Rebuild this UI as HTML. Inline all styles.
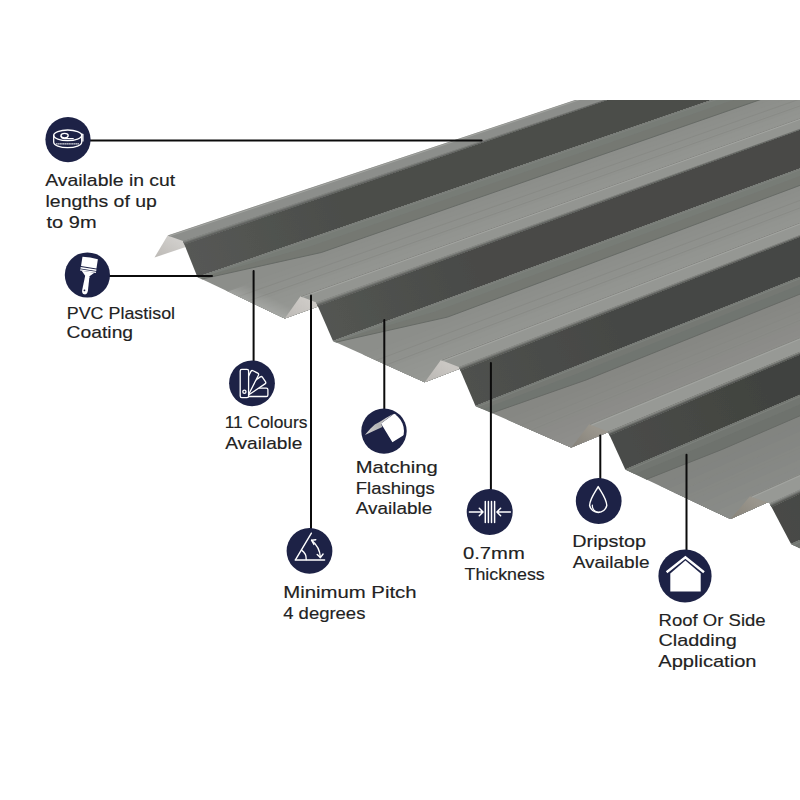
<!DOCTYPE html>
<html><head><meta charset="utf-8"><title>Trapezoidal Roof Sheet</title>
<style>html,body{margin:0;padding:0;background:#fff;}svg{display:block;}</style></head>
<body>
<svg width="800" height="800" viewBox="0 0 800 800">
<defs><linearGradient id="ug0" gradientUnits="userSpaceOnUse" x1="167.6" y1="235.4" x2="154.5" y2="257.6"><stop offset="0" stop-color="#d0cecb"/><stop offset="1" stop-color="#bcb9b5"/></linearGradient><linearGradient id="dg1" gradientUnits="userSpaceOnUse" x1="190.2" y1="259.1" x2="341.7" y2="207.6"><stop offset="0" stop-color="#565855"/><stop offset="1" stop-color="#4b4d4a"/></linearGradient><linearGradient id="pf1" gradientUnits="userSpaceOnUse" x1="241.1" y1="297.7" x2="247.5" y2="285.2"><stop offset="0" stop-color="#fff" stop-opacity="0.16"/><stop offset="1" stop-color="#fff" stop-opacity="0"/></linearGradient><linearGradient id="ug1" gradientUnits="userSpaceOnUse" x1="300.5" y1="296.2" x2="284.8" y2="318.4"><stop offset="0" stop-color="#cdcac6"/><stop offset="1" stop-color="#bdbab6"/></linearGradient><linearGradient id="dg2" gradientUnits="userSpaceOnUse" x1="324.6" y1="321.8" x2="475.0" y2="267.0"><stop offset="0" stop-color="#535552"/><stop offset="1" stop-color="#484a47"/></linearGradient><linearGradient id="ug2" gradientUnits="userSpaceOnUse" x1="440.9" y1="360.1" x2="424.8" y2="382.2"><stop offset="0" stop-color="#cac7c3"/><stop offset="1" stop-color="#bab7b3"/></linearGradient><linearGradient id="dg3" gradientUnits="userSpaceOnUse" x1="467.2" y1="386.4" x2="616.2" y2="328.1"><stop offset="0" stop-color="#4f514e"/><stop offset="1" stop-color="#454744"/></linearGradient><linearGradient id="ug3" gradientUnits="userSpaceOnUse" x1="589.2" y1="424.2" x2="571.2" y2="447.5"><stop offset="0" stop-color="#9a968d"/><stop offset="1" stop-color="#858179"/></linearGradient><linearGradient id="dg4" gradientUnits="userSpaceOnUse" x1="616.6" y1="450.6" x2="764.1" y2="388.5"><stop offset="0" stop-color="#4a4c49"/><stop offset="1" stop-color="#41433f"/></linearGradient><linearGradient id="ug4" gradientUnits="userSpaceOnUse" x1="750.0" y1="496.2" x2="730.5" y2="519.1"><stop offset="0" stop-color="#9a968d"/><stop offset="1" stop-color="#878379"/></linearGradient><linearGradient id="dg5" gradientUnits="userSpaceOnUse" x1="780.2" y1="523.6" x2="925.7" y2="457.1"><stop offset="0" stop-color="#484a47"/><stop offset="1" stop-color="#40423f"/></linearGradient><filter id="soft" x="-2%" y="-2%" width="104%" height="104%"><feGaussianBlur stdDeviation="0.35"/></filter><clipPath id="sc"><rect x="0" y="100" width="800" height="700"/></clipPath></defs>
<rect width="800" height="800" fill="#fff"/>
<g clip-path="url(#sc)"><g filter="url(#soft)">
<polygon points="154.50,257.60 167.60,235.40 1533.02,-218.23 1523.85,-203.38" fill="url(#ug0)"/>
<polygon points="167.60,235.40 183.00,241.10 1543.80,-214.93 1533.02,-218.23" fill="#8c8e8b"/>
<line x1="169.45" y1="236.08" x2="1534.31" y2="-217.84" stroke="#a3a5a1" stroke-width="1"/>
<polygon points="183.00,241.10 197.40,277.00 1553.88,-189.80 1543.80,-214.93" fill="url(#dg1)"/>
<polygon points="183.00,241.10 184.30,244.33 632.39,91.42 1544.05,-214.30 1543.80,-214.93 632.06,90.61" fill="#888a86"/>
<polygon points="183.22,241.64 184.30,244.33 632.39,91.42 1544.05,-214.30 1543.84,-214.83 632.12,90.74" fill="#7e807e"/>
<polygon points="183.43,242.18 184.30,244.33 632.39,91.42 1544.05,-214.30 1543.88,-214.72 632.17,90.88" fill="#767874"/>
<polygon points="183.65,242.72 184.30,244.33 632.39,91.42 1544.05,-214.30 1543.93,-214.62 632.23,91.01" fill="#6c6e6c"/>
<polygon points="183.86,243.25 184.30,244.33 632.39,91.42 1544.05,-214.30 1543.97,-214.51 632.28,91.15" fill="#646662"/>
<polygon points="184.08,243.79 184.30,244.33 632.39,91.42 1544.05,-214.30 1544.01,-214.41 632.33,91.28" fill="#5a5c5a"/>
<polygon points="197.40,277.00 284.75,318.40 1615.02,-160.82 1553.88,-189.80" fill="#8c8e8a"/>
<polygon points="225.79,290.45 284.75,318.40 1615.02,-160.82 1573.75,-180.38" fill="#8d8f8b"/>
<polygon points="232.34,293.56 284.75,318.40 1615.02,-160.82 1578.34,-178.21" fill="#8e908c"/>
<polygon points="238.89,296.66 284.75,318.40 1615.02,-160.82 1582.92,-176.03" fill="#8f918d"/>
<polygon points="245.44,299.77 284.75,318.40 1615.02,-160.82 1587.51,-173.86" fill="#90928e"/>
<polygon points="251.99,302.88 284.75,318.40 1615.02,-160.82 1592.10,-171.69" fill="#929490"/>
<polygon points="258.55,305.98 284.75,318.40 1615.02,-160.82 1596.68,-169.51" fill="#939591"/>
<polygon points="265.10,309.08 284.75,318.40 1615.02,-160.82 1601.27,-167.34" fill="#949692"/>
<polygon points="271.65,312.19 284.75,318.40 1615.02,-160.82 1605.85,-165.17" fill="#959793"/>
<polygon points="278.20,315.29 284.75,318.40 1615.02,-160.82 1610.44,-162.99" fill="#969894"/>
<polygon points="197.40,277.00 201.77,279.07 321.34,252.51 1569.78,-182.27 1553.88,-189.80" fill="#747872"/>
<polygon points="197.40,277.00 199.37,277.93 309.13,246.72 1561.03,-186.41 1553.88,-189.80" fill="#777b76"/>
<line x1="199.15" y1="277.83" x2="1555.10" y2="-189.22" stroke="#7e827d" stroke-width="1"/>
<polyline points="201.77,279.07 321.34,252.51 1569.78,-182.27" fill="none" stroke="#646863" stroke-width="0.9"/>
<line x1="238.45" y1="296.46" x2="1582.62" y2="-176.18" stroke="#858783" stroke-width="0.7"/>
<line x1="248.06" y1="301.01" x2="1589.34" y2="-172.99" stroke="#858783" stroke-width="0.7"/>
<polygon points="227.97,291.49 284.75,318.40 1615.02,-160.82 1575.28,-179.66" fill="url(#pf1)"/>
<polygon points="284.75,318.40 300.50,296.25 1626.05,-176.32 1615.02,-160.82" fill="url(#ug1)"/>
<polygon points="300.50,296.25 316.25,302.60 1637.08,-171.88 1626.05,-176.32" fill="#939591"/>
<line x1="300.97" y1="296.44" x2="1626.38" y2="-176.19" stroke="#80827e" stroke-width="0.8"/>
<line x1="302.39" y1="297.01" x2="1627.37" y2="-175.79" stroke="#a3a5a1" stroke-width="1"/>
<polygon points="316.25,302.60 333.00,341.00 1648.80,-145.00 1637.08,-171.88" fill="url(#dg2)"/>
<polygon points="316.25,302.60 317.76,306.06 752.50,146.89 1637.37,-171.21 1637.08,-171.88 752.12,146.02" fill="#8e908c"/>
<polygon points="316.50,303.18 317.76,306.06 752.50,146.89 1637.37,-171.21 1637.12,-171.77 752.19,146.17" fill="#838581"/>
<polygon points="316.75,303.75 317.76,306.06 752.50,146.89 1637.37,-171.21 1637.17,-171.66 752.25,146.31" fill="#787a77"/>
<polygon points="317.00,304.33 317.76,306.06 752.50,146.89 1637.37,-171.21 1637.22,-171.54 752.31,146.45" fill="#6e706c"/>
<polygon points="317.25,304.90 317.76,306.06 752.50,146.89 1637.37,-171.21 1637.27,-171.43 752.37,146.60" fill="#636562"/>
<polygon points="317.51,305.48 317.76,306.06 752.50,146.89 1637.37,-171.21 1637.32,-171.32 752.44,146.74" fill="#585a57"/>
<polygon points="333.00,341.00 424.75,382.25 1713.02,-116.12 1648.80,-145.00" fill="#8c8e8a"/>
<polygon points="362.82,354.41 424.75,382.25 1713.02,-116.12 1669.67,-135.62" fill="#8d8f8b"/>
<polygon points="369.70,357.50 424.75,382.25 1713.02,-116.12 1674.49,-133.45" fill="#8e908c"/>
<polygon points="376.58,360.59 424.75,382.25 1713.02,-116.12 1679.31,-131.28" fill="#8f918d"/>
<polygon points="383.46,363.69 424.75,382.25 1713.02,-116.12 1684.12,-129.12" fill="#90928e"/>
<polygon points="390.34,366.78 424.75,382.25 1713.02,-116.12 1688.94,-126.95" fill="#929490"/>
<polygon points="397.23,369.88 424.75,382.25 1713.02,-116.12 1693.76,-124.79" fill="#939591"/>
<polygon points="404.11,372.97 424.75,382.25 1713.02,-116.12 1698.57,-122.62" fill="#949692"/>
<polygon points="410.99,376.06 424.75,382.25 1713.02,-116.12 1703.39,-120.46" fill="#959793"/>
<polygon points="417.87,379.16 424.75,382.25 1713.02,-116.12 1708.21,-118.29" fill="#969894"/>
<polygon points="333.00,341.00 335.75,342.24 447.56,317.08 1664.86,-137.78 1648.80,-145.00" fill="#747872"/>
<polygon points="333.00,341.00 334.24,341.56 435.21,311.52 1656.03,-141.75 1648.80,-145.00" fill="#777b76"/>
<line x1="334.83" y1="341.82" x2="1650.08" y2="-144.42" stroke="#7e827d" stroke-width="1"/>
<polyline points="335.75,342.24 447.56,317.08 1664.86,-137.78" fill="none" stroke="#646863" stroke-width="0.9"/>
<line x1="376.12" y1="360.39" x2="1678.99" y2="-131.43" stroke="#858783" stroke-width="0.7"/>
<line x1="386.21" y1="364.93" x2="1686.05" y2="-128.25" stroke="#858783" stroke-width="0.7"/>
<polygon points="424.75,382.25 440.90,360.10 1724.33,-131.63 1713.02,-116.12" fill="url(#ug2)"/>
<polygon points="440.90,360.10 458.90,366.90 1736.93,-126.87 1724.33,-131.63" fill="#959793"/>
<line x1="441.44" y1="360.30" x2="1724.71" y2="-131.49" stroke="#80827e" stroke-width="0.8"/>
<line x1="443.06" y1="360.92" x2="1725.84" y2="-131.06" stroke="#a3a5a1" stroke-width="1"/>
<polygon points="458.90,366.90 475.50,406.00 1748.55,-99.50 1736.93,-126.87" fill="url(#dg3)"/>
<polygon points="458.90,366.90 460.39,370.42 881.02,204.84 1737.22,-126.19 1736.93,-126.87 880.65,203.96" fill="#8f918d"/>
<polygon points="459.15,367.49 460.39,370.42 881.02,204.84 1737.22,-126.19 1736.98,-126.76 880.71,204.10" fill="#848682"/>
<polygon points="459.40,368.07 460.39,370.42 881.02,204.84 1737.22,-126.19 1737.03,-126.64 880.77,204.25" fill="#787a76"/>
<polygon points="459.65,368.66 460.39,370.42 881.02,204.84 1737.22,-126.19 1737.08,-126.53 880.84,204.40" fill="#6c6e6b"/>
<polygon points="459.90,369.25 460.39,370.42 881.02,204.84 1737.22,-126.19 1737.12,-126.41 880.90,204.54" fill="#60625f"/>
<polygon points="460.14,369.83 460.39,370.42 881.02,204.84 1737.22,-126.19 1737.17,-126.30 880.96,204.69" fill="#555754"/>
<polygon points="475.50,406.00 571.25,447.50 1815.58,-70.45 1748.55,-99.50" fill="#868783"/>
<polygon points="506.62,419.49 571.25,447.50 1815.58,-70.45 1770.33,-90.06" fill="#878884"/>
<polygon points="513.80,422.60 571.25,447.50 1815.58,-70.45 1775.36,-87.88" fill="#888985"/>
<polygon points="520.98,425.71 571.25,447.50 1815.58,-70.45 1780.39,-85.70" fill="#898a86"/>
<polygon points="528.16,428.82 571.25,447.50 1815.58,-70.45 1785.41,-83.52" fill="#8a8b87"/>
<polygon points="535.34,431.94 571.25,447.50 1815.58,-70.45 1790.44,-81.34" fill="#8b8b88"/>
<polygon points="542.52,435.05 571.25,447.50 1815.58,-70.45 1795.47,-79.16" fill="#8c8c89"/>
<polygon points="549.71,438.16 571.25,447.50 1815.58,-70.45 1800.49,-76.99" fill="#8d8d8a"/>
<polygon points="556.89,441.27 571.25,447.50 1815.58,-70.45 1805.52,-74.81" fill="#8e8e8b"/>
<polygon points="564.07,444.39 571.25,447.50 1815.58,-70.45 1810.55,-72.63" fill="#8f8f8c"/>
<polygon points="475.50,406.00 491.78,413.06 586.17,379.96 1763.97,-92.82 1748.55,-99.50" fill="#707470"/>
<polygon points="475.50,406.00 482.82,409.17 574.32,374.82 1755.49,-96.49 1748.55,-99.50" fill="#747873"/>
<line x1="477.42" y1="406.83" x2="1749.89" y2="-98.92" stroke="#7e827d" stroke-width="1"/>
<polyline points="491.78,413.06 586.17,379.96 1763.97,-92.82" fill="none" stroke="#646863" stroke-width="0.9"/>
<line x1="520.50" y1="425.50" x2="1780.05" y2="-85.85" stroke="#858783" stroke-width="0.7"/>
<line x1="531.03" y1="430.07" x2="1787.42" y2="-82.65" stroke="#858783" stroke-width="0.7"/>
<polygon points="571.25,447.50 589.25,424.25 1828.17,-86.72 1815.58,-70.45" fill="url(#ug3)"/>
<polygon points="589.25,424.25 608.00,431.75 1841.30,-81.48 1828.17,-86.72" fill="#979995"/>
<line x1="589.81" y1="424.48" x2="1828.57" y2="-86.57" stroke="#80827e" stroke-width="0.8"/>
<line x1="591.50" y1="425.15" x2="1829.75" y2="-86.09" stroke="#a3a5a1" stroke-width="1"/>
<polygon points="608.00,431.75 625.25,469.50 1853.38,-55.05 1841.30,-81.48" fill="url(#dg4)"/>
<polygon points="608.00,431.75 609.55,435.15 1015.38,263.24 1841.60,-80.81 1841.30,-81.48 1014.99,262.39" fill="#91938f"/>
<polygon points="608.26,432.32 609.55,435.15 1015.38,263.24 1841.60,-80.81 1841.35,-81.36 1015.05,262.53" fill="#848682"/>
<polygon points="608.52,432.88 609.55,435.15 1015.38,263.24 1841.60,-80.81 1841.40,-81.25 1015.12,262.67" fill="#777975"/>
<polygon points="608.78,433.45 609.55,435.15 1015.38,263.24 1841.60,-80.81 1841.45,-81.14 1015.18,262.81" fill="#6a6c69"/>
<polygon points="609.03,434.01 609.55,435.15 1015.38,263.24 1841.60,-80.81 1841.50,-81.03 1015.25,262.95" fill="#5d5f5c"/>
<polygon points="609.29,434.58 609.55,435.15 1015.38,263.24 1841.60,-80.81 1841.55,-80.92 1015.31,263.09" fill="#50524f"/>
<polygon points="625.25,469.50 730.50,519.10 1927.05,-20.33 1853.38,-55.05" fill="#828480"/>
<polygon points="659.46,485.62 730.50,519.10 1927.05,-20.33 1877.32,-43.77" fill="#828481"/>
<polygon points="667.35,489.34 730.50,519.10 1927.05,-20.33 1882.85,-41.16" fill="#848682"/>
<polygon points="675.24,493.06 730.50,519.10 1927.05,-20.33 1888.37,-38.56" fill="#848683"/>
<polygon points="683.14,496.78 730.50,519.10 1927.05,-20.33 1893.90,-35.95" fill="#868884"/>
<polygon points="691.03,500.50 730.50,519.10 1927.05,-20.33 1899.42,-33.35" fill="#868885"/>
<polygon points="698.92,504.22 730.50,519.10 1927.05,-20.33 1904.95,-30.75" fill="#888a86"/>
<polygon points="706.82,507.94 730.50,519.10 1927.05,-20.33 1910.47,-28.14" fill="#888a87"/>
<polygon points="714.71,511.66 730.50,519.10 1927.05,-20.33 1916.00,-25.54" fill="#8a8c88"/>
<polygon points="722.61,515.38 730.50,519.10 1927.05,-20.33 1921.52,-22.93" fill="#8a8c89"/>
<polygon points="625.25,469.50 646.30,479.42 722.71,449.23 1870.32,-47.06 1853.38,-55.05" fill="#6e726d"/>
<polygon points="625.25,469.50 634.72,473.96 709.63,443.07 1861.00,-51.46 1853.38,-55.05" fill="#727671"/>
<line x1="627.36" y1="470.49" x2="1854.85" y2="-54.36" stroke="#7e827d" stroke-width="1"/>
<polyline points="646.30,479.42 722.71,449.23 1870.32,-47.06" fill="none" stroke="#646863" stroke-width="0.9"/>
<line x1="674.72" y1="492.81" x2="1888.00" y2="-38.73" stroke="#858783" stroke-width="0.7"/>
<line x1="686.29" y1="498.27" x2="1896.11" y2="-34.91" stroke="#858783" stroke-width="0.7"/>
<polygon points="730.50,519.10 750.00,496.25 1940.70,-36.32 1927.05,-20.33" fill="url(#ug4)"/>
<polygon points="750.00,496.25 769.50,503.20 1954.35,-31.46 1940.70,-36.32" fill="#979995"/>
<line x1="750.59" y1="496.46" x2="1941.11" y2="-36.18" stroke="#80827e" stroke-width="0.8"/>
<line x1="752.34" y1="497.08" x2="1942.34" y2="-35.74" stroke="#a3a5a1" stroke-width="1"/>
<polygon points="769.50,503.20 791.00,544.10 1969.40,-2.83 1954.35,-31.46" fill="url(#dg5)"/>
<polygon points="769.50,503.20 771.43,506.88 1160.98,327.68 1954.73,-30.74 1954.35,-31.46 1160.50,326.76" fill="#90928e"/>
<polygon points="769.82,503.81 771.43,506.88 1160.98,327.68 1954.73,-30.74 1954.41,-31.34 1160.58,326.92" fill="#838582"/>
<polygon points="770.14,504.43 771.43,506.88 1160.98,327.68 1954.73,-30.74 1954.48,-31.22 1160.66,327.07" fill="#767874"/>
<polygon points="770.47,505.04 771.43,506.88 1160.98,327.68 1954.73,-30.74 1954.54,-31.10 1160.74,327.22" fill="#696b68"/>
<polygon points="770.79,505.65 771.43,506.88 1160.98,327.68 1954.73,-30.74 1954.60,-30.98 1160.82,327.38" fill="#5c5e5a"/>
<polygon points="771.11,506.27 771.43,506.88 1160.98,327.68 1954.73,-30.74 1954.66,-30.86 1160.90,327.53" fill="#4f514e"/>
<polygon points="791.00,544.10 902.00,597.00 2047.10,34.20 1969.40,-2.83" fill="#80827e"/>
<polygon points="827.08,561.29 902.00,597.00 2047.10,34.20 1994.65,9.20" fill="#80827f"/>
<polygon points="835.40,565.26 902.00,597.00 2047.10,34.20 2000.48,11.98" fill="#828480"/>
<polygon points="843.73,569.23 902.00,597.00 2047.10,34.20 2006.31,14.76" fill="#828481"/>
<polygon points="852.05,573.20 902.00,597.00 2047.10,34.20 2012.13,17.54" fill="#848682"/>
<polygon points="860.38,577.16 902.00,597.00 2047.10,34.20 2017.96,20.31" fill="#848683"/>
<polygon points="868.70,581.13 902.00,597.00 2047.10,34.20 2023.79,23.09" fill="#868884"/>
<polygon points="877.02,585.10 902.00,597.00 2047.10,34.20 2029.62,25.87" fill="#868885"/>
<polygon points="885.35,589.07 902.00,597.00 2047.10,34.20 2035.44,28.65" fill="#888a86"/>
<polygon points="893.67,593.03 902.00,597.00 2047.10,34.20 2041.27,31.42" fill="#888a87"/>
<polygon points="791.00,544.10 813.20,554.68 886.77,523.23 1987.27,5.69 1969.40,-2.83" fill="#6d716c"/>
<polygon points="791.00,544.10 800.99,548.86 872.99,516.66 1977.44,1.00 1969.40,-2.83" fill="#717570"/>
<line x1="793.22" y1="545.16" x2="1970.95" y2="-2.09" stroke="#7e827d" stroke-width="1"/>
<polyline points="813.20,554.68 886.77,523.23 1987.27,5.69" fill="none" stroke="#646863" stroke-width="0.9"/>
<line x1="843.17" y1="568.96" x2="2005.92" y2="14.57" stroke="#858783" stroke-width="0.7"/>
<line x1="855.38" y1="574.78" x2="2014.47" y2="18.65" stroke="#858783" stroke-width="0.7"/>
</g></g>
<g stroke="#0b0b0b" stroke-width="2" fill="none" stroke-linecap="round">
<line x1="88" y1="140.6" x2="481.6" y2="140.6"/>
<line x1="108" y1="276.1" x2="212" y2="276.1"/>
<line x1="253.6" y1="271" x2="253.6" y2="362"/>
<line x1="311" y1="295.5" x2="311" y2="529"/>
<line x1="384.3" y1="320" x2="384.3" y2="410"/>
<line x1="490.9" y1="363" x2="490.9" y2="490"/>
<line x1="600.3" y1="435.5" x2="600.3" y2="479"/>
<line x1="686.5" y1="454.75" x2="686.5" y2="551"/>
</g>
<circle cx="68" cy="139.6" r="22.6" fill="#1d2246"/>
<circle cx="87.4" cy="275" r="22.6" fill="#1d2246"/>
<circle cx="252" cy="383.3" r="22.9" fill="#1d2246"/>
<circle cx="384" cy="431.1" r="22.7" fill="#1d2246"/>
<circle cx="309.5" cy="550.9" r="22.9" fill="#1d2246"/>
<circle cx="489.7" cy="511.9" r="23" fill="#1d2246"/>
<circle cx="598.7" cy="501" r="22.9" fill="#1d2246"/>
<circle cx="685" cy="576" r="26.6" fill="#1d2246"/>
<defs>
<linearGradient id="fg" x1="364" y1="435" x2="393" y2="414" gradientUnits="userSpaceOnUse"><stop offset="0" stop-color="#d6d6d6"/><stop offset="0.5" stop-color="#b4b4b4"/><stop offset="0.75" stop-color="#c8c8c8"/><stop offset="1" stop-color="#eeeeee"/></linearGradient>
<clipPath id="fc"><circle cx="384" cy="431.1" r="20"/></clipPath>
</defs>
<g fill="none" stroke="#fff" stroke-linecap="round" stroke-linejoin="round">
<!-- 1 tape measure -->
<g stroke-width="1.3">
<ellipse cx="67.7" cy="135.3" rx="14" ry="5.3"/>
<path d="M53.7 135.3 V142.3 A14 5.3 0 0 0 81.7 142.3 V135.3"/>
<path d="M81.7 134.1 L82.9 134.3 V141"/>
<ellipse cx="64.6" cy="135.6" rx="3.6" ry="2.2"/>
<path d="M61 136.2 Q61.4 138.7 64.6 138.7 H73.2"/>
<path d="M56.2 143.9 H79.2" stroke-width="1.0" stroke-dasharray="0.8 1.0"/>
</g>
<!-- 2 paint brush -->
<g transform="translate(87.4,275.6) rotate(9)" fill="#fff" stroke="none">
<path d="M-7.8 -17.8 Q0 -18.8 7.8 -17.8 L7.8 -8.4 L-7.8 -8.4 Z"/>
<rect x="-8" y="-7.5" width="16" height="1.7"/>
<rect x="-8" y="-5.1" width="16" height="1.3"/>
<path d="M-6.4 -3.9 L6.4 -3.9 L2.2 0.4 L2.2 2 L-2.2 2 L-2.2 0.4 Z"/>
<path d="M-2.2 1 L2.2 1 L2.9 15 Q2.9 19 0 19 Q-2.9 19 -2.9 15 Z"/>
<circle cx="-0.6" cy="15" r="0.9" fill="#1d2246"/>
</g>
<!-- 3 swatches -->
<g stroke-width="1.3" fill="#1d2246">
<g transform="rotate(90 245 392.3)"><path d="M245 392.3 H240.8 V371.0 Q240.8 369.4 242.4 369.4 H247.6 Q249.2 369.4 249.2 371.0 V392.3 Z"/></g>
<g transform="rotate(56 245 392.3)"><path d="M245 392.3 H240.8 V371.0 Q240.8 369.4 242.4 369.4 H247.6 Q249.2 369.4 249.2 371.0 V392.3 Z"/></g>
<g transform="rotate(27 245 392.3)"><path d="M245 392.3 H240.8 V371.0 Q240.8 369.4 242.4 369.4 H247.6 Q249.2 369.4 249.2 371.0 V392.3 Z"/></g>
<rect x="240.2" y="369.4" width="8.4" height="28.2" rx="1.6"/>
<circle cx="244.4" cy="391.8" r="1.6"/>
</g>
<!-- 4 flashing -->
<g stroke="none">
<polygon clip-path="url(#fc)" points="381,423.4 399.5,409.8 430,409.8 430,428.3 414.4,428.3 392.4,442.3" fill="#fff"/>
<path d="M364.9 434.9 L370.5 428.6 L374.8 424.4 L379.9 421.7 L385.4 418.3 L393.6 413.7 L381 423.4 L382.3 427 Z" fill="url(#fg)"/>
</g>
<!-- 5 pitch -->
<g stroke-width="1.4">
<path d="M295.2 560 H324.6"/>
<path d="M295.6 559.6 L311.4 533.2"/>
<path d="M301.5 550.2 A10.6 10.6 0 0 1 306.2 559.6"/>
<path d="M311.6 540.2 A24 24 0 0 1 320.4 557.6"/>
<path d="M311.6 540.2 L313.9 544.4 M311.6 540.2 L315.8 539.7"/>
<path d="M320.4 557.6 L317.2 554.4 M320.4 557.6 L323.1 554.0"/>
</g>
<!-- 6 thickness -->
<g stroke-width="1.5">
<path d="M485.3 501.6 V522.6 M488.4 501.6 V522.6 M491.5 501.6 V522.6 M494.6 501.6 V522.6"/>
<path d="M469.4 512 H483 M479.3 508.2 L483 512 L479.3 515.8"/>
<path d="M510.4 512 H496.9 M500.6 508.2 L496.9 512 L500.6 515.8"/>
</g>
<!-- 7 drop -->
<g stroke-width="1.4">
<path d="M598.2 486.6 C596 491 590 498 589.6 505.5 A8.8 8.8 0 0 0 606.8 505.5 C606.4 498 600.4 491 598.2 486.6 Z"/>
<path d="M592.4 505 A6.4 6.4 0 0 0 599.4 512.2" stroke-width="1.2"/>
</g>
<!-- 8 house -->
<g>
<path d="M666.6 572.3 L685.4 557.2 L704 572.3" stroke-width="2.4" stroke-linecap="butt" stroke-linejoin="miter"/>
<polygon points="670.3,573.4 685.4,560.4 700.7,573.4 700.7,591.4 670.3,591.4" fill="#fff" stroke="none"/>
</g>
</g>

<g font-family="'Liberation Sans', sans-serif" font-size="16.2" fill="#222222" stroke="#222222" stroke-width="0.15">
<text x="45.20" y="186.35" textLength="130.05" lengthAdjust="spacingAndGlyphs">Available in cut</text>
<text x="45.55" y="207.00" textLength="111.25" lengthAdjust="spacingAndGlyphs">lengths of up</text>
<text x="46.55" y="227.65" textLength="50.00" lengthAdjust="spacingAndGlyphs">to 9m</text>
<text x="66.75" y="318.75" textLength="108.35" lengthAdjust="spacingAndGlyphs">PVC Plastisol</text>
<text x="66.60" y="338.25" textLength="66.50" lengthAdjust="spacingAndGlyphs">Coating</text>
<text x="224.75" y="428.10" textLength="82.75" lengthAdjust="spacingAndGlyphs">11 Colours</text>
<text x="225.20" y="448.75" textLength="77.10" lengthAdjust="spacingAndGlyphs">Available</text>
<text x="355.75" y="473.10" textLength="82.00" lengthAdjust="spacingAndGlyphs">Matching</text>
<text x="355.75" y="493.75" textLength="79.05" lengthAdjust="spacingAndGlyphs">Flashings</text>
<text x="355.75" y="514.40" textLength="76.55" lengthAdjust="spacingAndGlyphs">Available</text>
<text x="283.20" y="598.25" textLength="133.40" lengthAdjust="spacingAndGlyphs">Minimum Pitch</text>
<text x="283.20" y="618.90" textLength="82.20" lengthAdjust="spacingAndGlyphs">4 degrees</text>
<text x="463.00" y="559.00" textLength="61.75" lengthAdjust="spacingAndGlyphs">0.7mm</text>
<text x="464.50" y="579.75" textLength="80.25" lengthAdjust="spacingAndGlyphs">Thickness</text>
<text x="572.25" y="547.40" textLength="73.75" lengthAdjust="spacingAndGlyphs">Dripstop</text>
<text x="572.70" y="568.00" textLength="76.80" lengthAdjust="spacingAndGlyphs">Available</text>
<text x="658.60" y="625.55" textLength="107.00" lengthAdjust="spacingAndGlyphs">Roof Or Side</text>
<text x="658.40" y="646.25" textLength="78.35" lengthAdjust="spacingAndGlyphs">Cladding</text>
<text x="658.25" y="667.00" textLength="98.25" lengthAdjust="spacingAndGlyphs">Application</text>
</g>
</svg>
</body></html>
